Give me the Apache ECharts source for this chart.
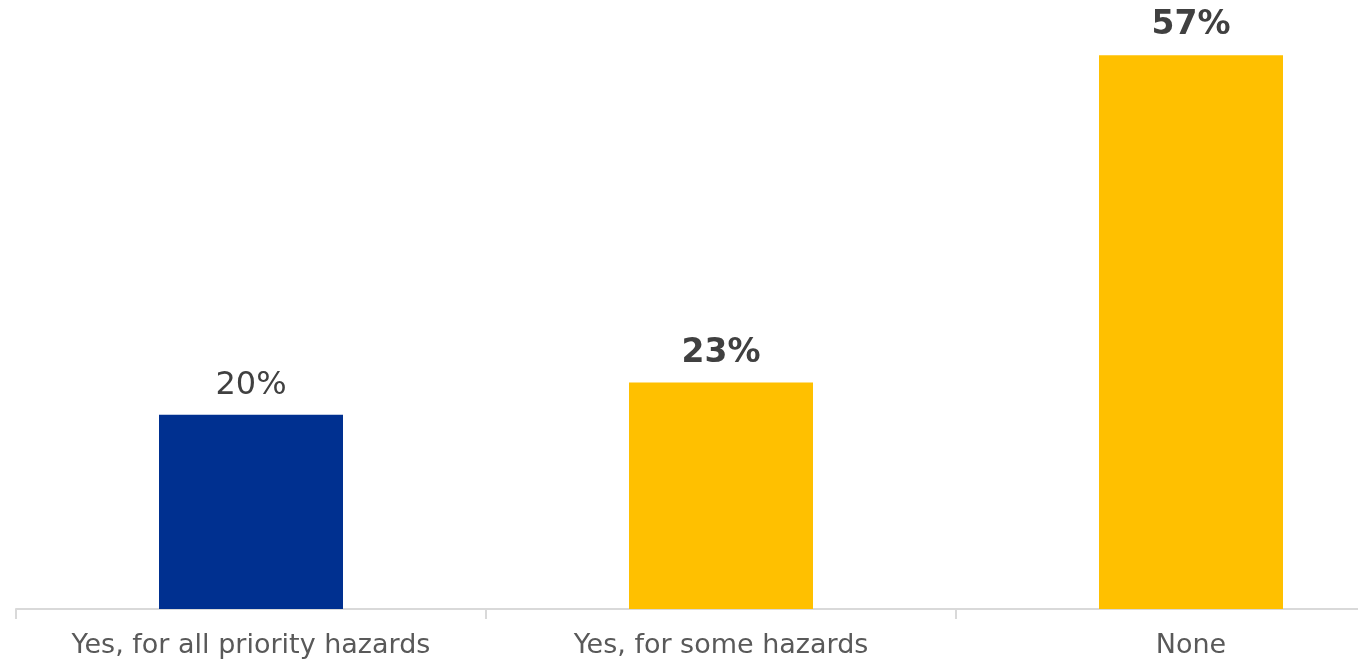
<!DOCTYPE html>
<html><head><meta charset="utf-8">
<script src="https://cdn.jsdelivr.net/npm/echarts@6/dist/echarts.min.js"></script>
<style>html,body{margin:0;padding:0;background:#fff;overflow:hidden;width:1358px;height:663px}#c{width:1426px;height:663px}</style>
</head><body><div id="c"></div>
<script>
const categories = ["Yes, for all priority hazards", "Yes, for some hazards", "None"];
const values = [20, 23.3, 57];
const valueLabels = ["20%", "23%", "57%"];
const barColors = ["#003090", "#FFC000", "#FFC000"];
const labelBold = [false, true, true];

const chart = echarts.init(document.getElementById('c'));
chart.setOption({
  animation: false,
  grid: { left: 16, top: 26, bottom: 54, right: 0 },
  xAxis: {
    type: 'category', data: categories,
    axisLine: { lineStyle: { color: '#d9d9d9', width: 2 } },
    axisTick: { show: true, length: 10, lineStyle: { color: '#d9d9d9', width: 2 } },
    axisLabel: { color: '#595959', fontSize: 27, fontFamily: 'DejaVu Sans', margin: 23, interval: 0 }
  },
  yAxis: { type: 'value', min: 0, max: 60, show: false, splitLine: { show: false } },
  series: [{
    type: 'bar', barWidth: 184,
    data: values.map((v, i) => ({
      value: v,
      itemStyle: { color: barColors[i] },
      label: {
        show: true, position: 'top', distance: 13,
        formatter: valueLabels[i],
        color: '#404040', fontSize: labelBold[i] ? 33 : 32, fontFamily: 'DejaVu Sans',
        fontWeight: labelBold[i] ? 'bold' : 'normal'
      }
    }))
  }]
});
</script></body></html>
